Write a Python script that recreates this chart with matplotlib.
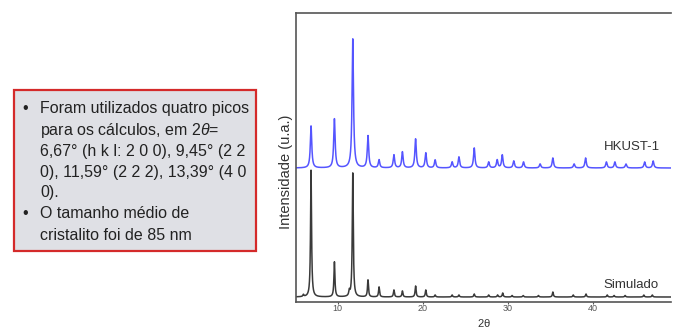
import numpy as np
import matplotlib
matplotlib.use("Agg")
import matplotlib.pyplot as plt
from matplotlib.patches import Rectangle

plt.rcParams['font.family'] = ['Liberation Sans', 'DejaVu Sans']
plt.rcParams['mathtext.fontset'] = 'custom'
plt.rcParams['mathtext.rm'] = 'Liberation Sans'
plt.rcParams['mathtext.it'] = 'Liberation Sans:italic'

# picos (2theta, intensidade em u.a.)
sim_pos = [5.95, 6.85, 9.6, 11.35, 11.76, 13.55, 14.85, 16.6, 17.6, 19.15, 20.35,
           21.45, 23.45, 24.25, 26.05, 27.75, 28.8, 29.4, 30.5, 31.8, 33.6, 35.3,
           37.7, 39.2, 41.7, 42.5, 43.8, 46.0, 47.0]
sim_int = [2, 127, 35, 5, 124, 17, 10, 7, 6, 11, 7,
           2, 2, 2, 3, 2, 2, 4, 1.5, 1.5, 1.5, 5,
           2, 3, 2, 1.5, 1.5, 2, 2]

exp_pos = [6.85, 9.6, 11.76, 13.55, 14.85, 16.6, 17.6, 19.15, 20.35, 21.45,
           23.45, 24.25, 26.05, 27.75, 28.75, 29.35, 30.7, 31.85, 33.8, 35.3,
           37.8, 39.15, 41.6, 42.6, 43.9, 46.1, 47.1]
exp_int = [42, 49, 129, 32, 8, 13, 16, 29, 15, 8,
           6, 11, 20, 6, 8, 13, 7, 6, 4, 10,
           4, 10, 6, 6, 4, 6, 7]

exp_offset = 134
sim_base = 5

bullet_lines = [
    ("•", "Foram utilizados quatro picos"),
    ("", r"para os cálculos, em 2$\it{\theta}$="),
    ("", "6,67° (h k l: 2 0 0), 9,45° (2 2"),
    ("", "0), 11,59° (2 2 2), 13,39° (4 0"),
    ("", "0)."),
    ("•", "O tamanho médio de"),
    ("", "cristalito foi de 85 nm"),
]
line_baselines = [113, 135, 156, 177, 197, 218, 240]  # px a partir do topo


def pattern(x, pos, inten, w):
    y = np.zeros_like(x)
    for p, h in zip(pos, inten):
        y += h / (1 + ((x - p) / w) ** 2)
    return y


W, H = 673, 331
fig = plt.figure(figsize=(W / 100, H / 100), dpi=100)

ax = fig.add_axes([296 / W, 29 / H, 375 / W, 289 / H])
x = np.linspace(5.0, 49.5, 6000)
ax.plot(x, sim_base + pattern(x, sim_pos, sim_int, 0.07), color='#3a3a3a', lw=1.1)
ax.plot(x, exp_offset + pattern(x, exp_pos, exp_int, 0.10), color='#5555ff', lw=1.1)

ax.set_xlim(5.08, 49.2)
ax.set_ylim(0, 289)
ax.set_yticks([])
ax.set_xticks([10, 20, 30, 40])
ax.tick_params(axis='x', direction='out', length=1.5, width=0.8, pad=0,
               labelsize=6.5, labelcolor='#555555', color='#555555')
for s in ['left', 'top', 'bottom']:
    ax.spines[s].set_color('#555555')
    ax.spines[s].set_linewidth(1.2)
ax.spines['right'].set_visible(False)

ax.set_xlabel(r"2$\mathrm{\theta}$", fontsize=8, color='#333333', labelpad=3)
ax.set_ylabel("Intensidade (u.a.)", fontsize=10.5, color='#333333')
ax.yaxis.set_label_coords(-0.008, 0.45)

fig.text(632 / W, 1 - 150 / H, "HKUST-1", fontsize=9.5, color='#333333',
         ha='center', va='baseline')
fig.text(631 / W, 1 - 288 / H, "Simulado", fontsize=9.5, color='#333333',
         ha='center', va='baseline')

# caixa de texto
fig.patches.append(Rectangle((14 / W, 1 - 251 / H), 242 / W, 161 / H,
                             transform=fig.transFigure, facecolor='#dfe0e5',
                             edgecolor='#d42a2a', linewidth=1.6))
for (b, t), yb in zip(bullet_lines, line_baselines):
    if b:
        fig.text(22 / W, 1 - yb / H, b, fontsize=11.5, color='#222222', va='baseline')
    fig.text(40 / W, 1 - yb / H, t, fontsize=11.5, color='#222222', va='baseline')

fig.savefig("out.png", dpi=100)
